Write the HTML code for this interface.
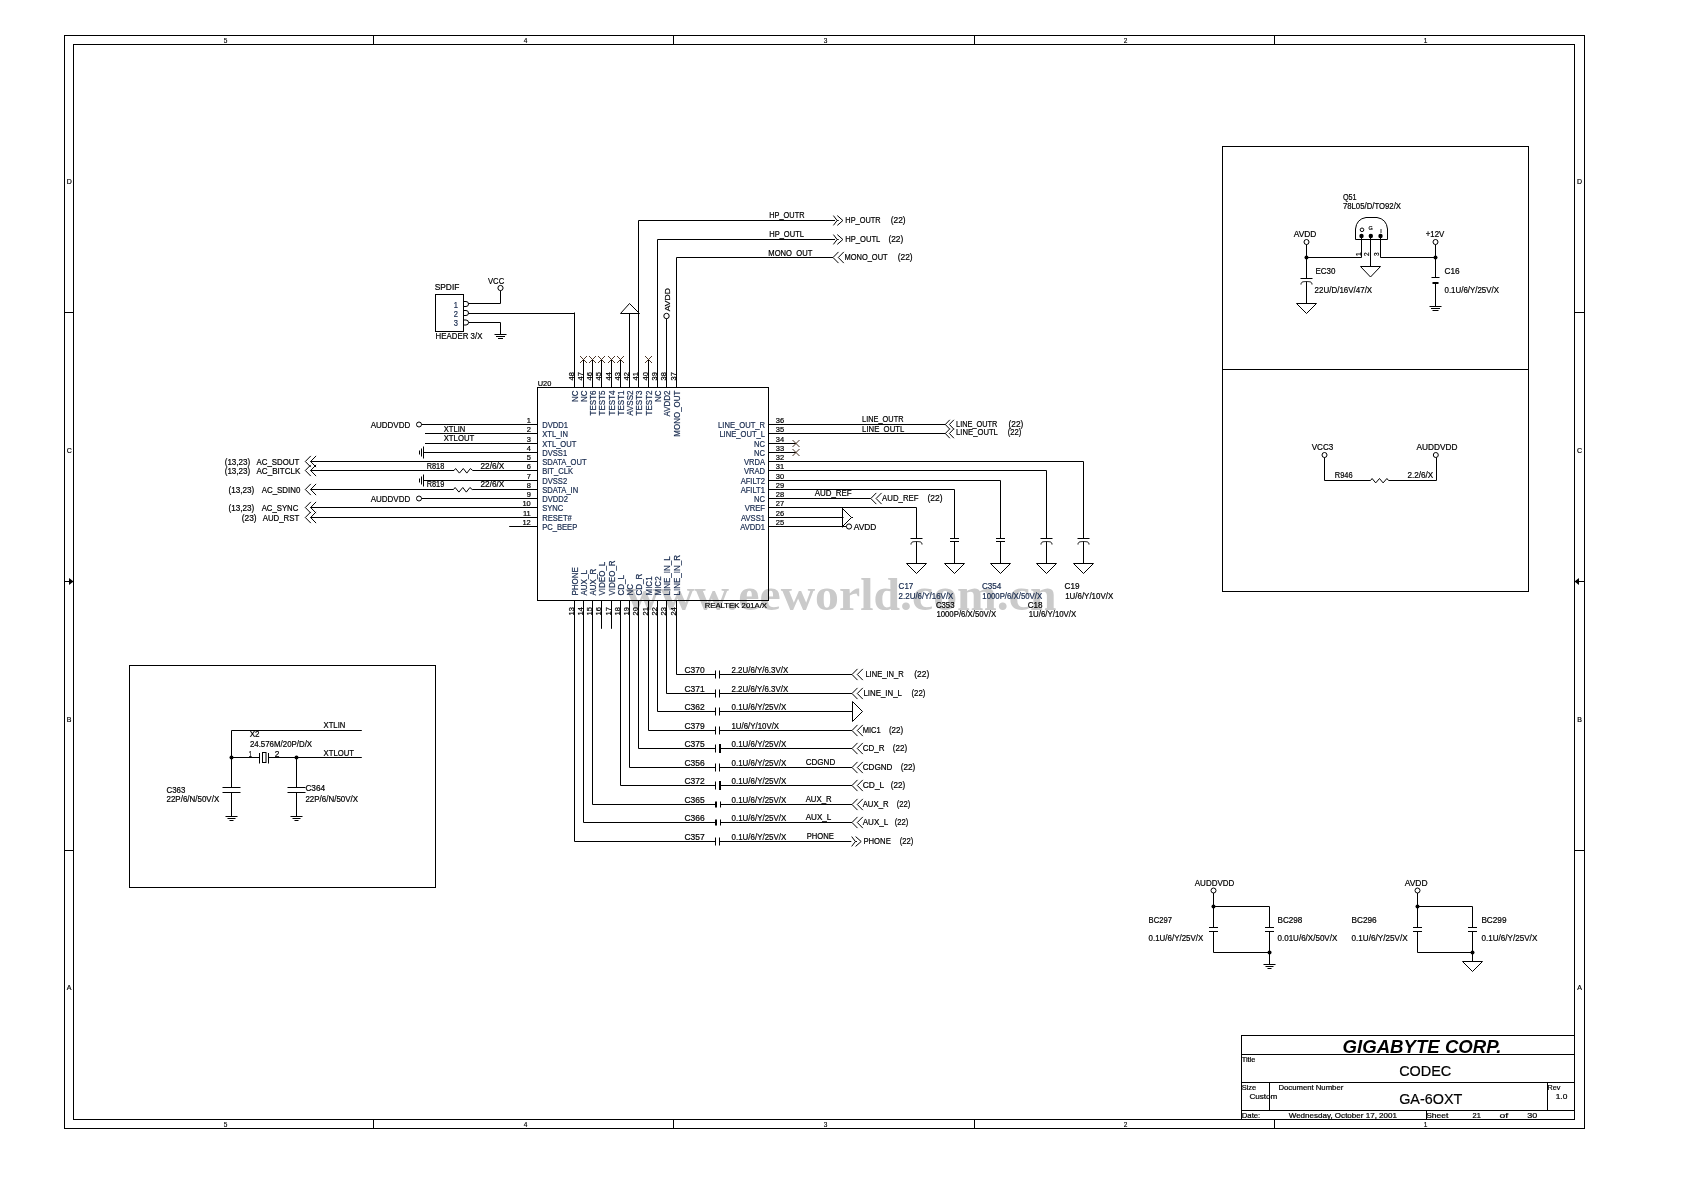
<!DOCTYPE html>
<html><head><meta charset="utf-8"><title>CODEC schematic</title>
<style>
html,body{margin:0;padding:0;background:#fff;}
svg{display:block;will-change:transform;}
svg{font-family:"Liberation Sans", sans-serif;}
</style></head>
<body>
<svg width="1684" height="1189" viewBox="0 0 1684 1189">
<rect x="0" y="0" width="1684" height="1189" fill="#fff"/>
<text x="625.5" y="610" font-family="Liberation Serif" font-weight="bold" font-size="46" fill="#cacaca" textLength="431" lengthAdjust="spacingAndGlyphs">www.eeworld.com.cn</text>
<rect x="64.5" y="35.5" width="1520" height="1093" fill="none" stroke="#000" stroke-width="1"/>
<rect x="73.5" y="44.5" width="1501" height="1075" fill="none" stroke="#000" stroke-width="1"/>
<line x1="373.5" y1="35.5" x2="373.5" y2="44.5" stroke="#000" stroke-width="1"/>
<line x1="373.5" y1="1119.5" x2="373.5" y2="1128.5" stroke="#000" stroke-width="1"/>
<line x1="673.5" y1="35.5" x2="673.5" y2="44.5" stroke="#000" stroke-width="1"/>
<line x1="673.5" y1="1119.5" x2="673.5" y2="1128.5" stroke="#000" stroke-width="1"/>
<line x1="974.5" y1="35.5" x2="974.5" y2="44.5" stroke="#000" stroke-width="1"/>
<line x1="974.5" y1="1119.5" x2="974.5" y2="1128.5" stroke="#000" stroke-width="1"/>
<line x1="1274.5" y1="35.5" x2="1274.5" y2="44.5" stroke="#000" stroke-width="1"/>
<line x1="1274.5" y1="1119.5" x2="1274.5" y2="1128.5" stroke="#000" stroke-width="1"/>
<line x1="64.5" y1="312.5" x2="73.5" y2="312.5" stroke="#000" stroke-width="1"/>
<line x1="1574.5" y1="312.5" x2="1584.5" y2="312.5" stroke="#000" stroke-width="1"/>
<line x1="64.5" y1="850.5" x2="73.5" y2="850.5" stroke="#000" stroke-width="1"/>
<line x1="1574.5" y1="850.5" x2="1584.5" y2="850.5" stroke="#000" stroke-width="1"/>
<line x1="64.5" y1="581.5" x2="73.5" y2="581.5" stroke="#000" stroke-width="1"/>
<polygon points="69,578 73.5,581.5 69,585" fill="#000"/>
<line x1="1574.5" y1="581.5" x2="1584.5" y2="581.5" stroke="#000" stroke-width="1"/>
<polygon points="1579,578 1574.5,581.5 1579,585" fill="#000"/>
<text x="225.5" y="42.8" font-size="6.5" stroke="#000" stroke-width="0.15" text-anchor="middle">5</text>
<text x="225.5" y="1126.8" font-size="6.5" stroke="#000" stroke-width="0.15" text-anchor="middle">5</text>
<text x="525.5" y="42.8" font-size="6.5" stroke="#000" stroke-width="0.15" text-anchor="middle">4</text>
<text x="525.5" y="1126.8" font-size="6.5" stroke="#000" stroke-width="0.15" text-anchor="middle">4</text>
<text x="825.5" y="42.8" font-size="6.5" stroke="#000" stroke-width="0.15" text-anchor="middle">3</text>
<text x="825.5" y="1126.8" font-size="6.5" stroke="#000" stroke-width="0.15" text-anchor="middle">3</text>
<text x="1125.5" y="42.8" font-size="6.5" stroke="#000" stroke-width="0.15" text-anchor="middle">2</text>
<text x="1125.5" y="1126.8" font-size="6.5" stroke="#000" stroke-width="0.15" text-anchor="middle">2</text>
<text x="1425.5" y="42.8" font-size="6.5" stroke="#000" stroke-width="0.15" text-anchor="middle">1</text>
<text x="1425.5" y="1126.8" font-size="6.5" stroke="#000" stroke-width="0.15" text-anchor="middle">1</text>
<text x="69.2" y="183.8" font-size="7" stroke="#000" stroke-width="0.2" text-anchor="middle">D</text>
<text x="1579.6" y="183.8" font-size="7" stroke="#000" stroke-width="0.2" text-anchor="middle">D</text>
<text x="69.2" y="452.8" font-size="7" stroke="#000" stroke-width="0.2" text-anchor="middle">C</text>
<text x="1579.6" y="452.8" font-size="7" stroke="#000" stroke-width="0.2" text-anchor="middle">C</text>
<text x="69.2" y="722" font-size="7" stroke="#000" stroke-width="0.2" text-anchor="middle">B</text>
<text x="1579.6" y="722" font-size="7" stroke="#000" stroke-width="0.2" text-anchor="middle">B</text>
<text x="69.2" y="990" font-size="7" stroke="#000" stroke-width="0.2" text-anchor="middle">A</text>
<text x="1579.6" y="990" font-size="7" stroke="#000" stroke-width="0.2" text-anchor="middle">A</text>
<rect x="1241.5" y="1035.5" width="333" height="84" fill="none" stroke="#000" stroke-width="1"/>
<line x1="1241.5" y1="1054.5" x2="1574.5" y2="1054.5" stroke="#000" stroke-width="1"/>
<line x1="1241.5" y1="1082.5" x2="1574.5" y2="1082.5" stroke="#000" stroke-width="1"/>
<line x1="1241.5" y1="1110.5" x2="1574.5" y2="1110.5" stroke="#000" stroke-width="1"/>
<line x1="1269.5" y1="1082.5" x2="1269.5" y2="1110.5" stroke="#000" stroke-width="1"/>
<line x1="1547.5" y1="1082.5" x2="1547.5" y2="1110.5" stroke="#000" stroke-width="1"/>
<line x1="1426.5" y1="1110.5" x2="1426.5" y2="1119.5" stroke="#000" stroke-width="1"/>
<text x="1342.5" y="1053" font-size="18.5" textLength="159" lengthAdjust="spacingAndGlyphs" font-weight="bold" font-style="italic">GIGABYTE CORP.</text>
<text x="1241.7" y="1062" font-size="7" stroke="#000" stroke-width="0.2" textLength="13.6" lengthAdjust="spacingAndGlyphs">Title</text>
<text x="1399.2" y="1076.4" font-size="14.5" stroke="#000" stroke-width="0.2" textLength="52.1" lengthAdjust="spacingAndGlyphs">CODEC</text>
<text x="1241.7" y="1090" font-size="7" stroke="#000" stroke-width="0.2" textLength="14.6" lengthAdjust="spacingAndGlyphs">Size</text>
<text x="1278.4" y="1090" font-size="7" stroke="#000" stroke-width="0.2" textLength="64.9" lengthAdjust="spacingAndGlyphs">Document Number</text>
<text x="1249.4" y="1098.5" font-size="7" stroke="#000" stroke-width="0.2" textLength="27.9" lengthAdjust="spacingAndGlyphs">Custom</text>
<text x="1399.2" y="1104.3" font-size="14.5" stroke="#000" stroke-width="0.2" textLength="63.1" lengthAdjust="spacingAndGlyphs">GA-6OXT</text>
<text x="1547.4" y="1090" font-size="7" stroke="#000" stroke-width="0.2" textLength="12.9" lengthAdjust="spacingAndGlyphs">Rev</text>
<text x="1555.7" y="1098.5" font-size="7" stroke="#000" stroke-width="0.2" textLength="11.6" lengthAdjust="spacingAndGlyphs">1.0</text>
<text x="1241.7" y="1117.5" font-size="7" stroke="#000" stroke-width="0.2" textLength="18.6" lengthAdjust="spacingAndGlyphs">Date:</text>
<text x="1288.7" y="1117.5" font-size="7" stroke="#000" stroke-width="0.2" textLength="108.3" lengthAdjust="spacingAndGlyphs">Wednesday, October 17, 2001</text>
<text x="1426.2" y="1117.5" font-size="7" stroke="#000" stroke-width="0.2" textLength="22.1" lengthAdjust="spacingAndGlyphs">Sheet</text>
<text x="1472.5" y="1117.5" font-size="7" stroke="#000" stroke-width="0.2" textLength="8.3" lengthAdjust="spacingAndGlyphs">21</text>
<text x="1499.5" y="1117.5" font-size="7" stroke="#000" stroke-width="0.2" textLength="8.8" lengthAdjust="spacingAndGlyphs">of</text>
<text x="1527.3" y="1117.5" font-size="7" stroke="#000" stroke-width="0.2" textLength="10.0" lengthAdjust="spacingAndGlyphs">30</text>
<rect x="537.5" y="387.5" width="231" height="213" fill="none" stroke="#000" stroke-width="1"/>
<text x="537.7" y="385.5" font-size="7.5" stroke="#000" stroke-width="0.2" textLength="13.6" lengthAdjust="spacingAndGlyphs">U20</text>
<text x="704.7" y="607.9" font-size="7.5" stroke="#000" stroke-width="0.2" textLength="62.3" lengthAdjust="spacingAndGlyphs">REALTEK 201A/X</text>
<line x1="574.5" y1="387.5" x2="574.5" y2="312.5" stroke="#000" stroke-width="1"/>
<text x="573.5" y="380.5" font-size="7.5" stroke="#000" stroke-width="0.2" transform="rotate(-90 573.5 380.5)">48</text>
<text x="578.1" y="390.5" font-size="8.6" fill="#172a4e" stroke="#172a4e" stroke-width="0.2" text-anchor="end" textLength="11.55" lengthAdjust="spacingAndGlyphs" transform="rotate(-90 578.1 390.5)">NC</text>
<line x1="583.5" y1="387.5" x2="583.5" y2="359.5" stroke="#000" stroke-width="1"/>
<text x="582.5" y="380.5" font-size="7.5" stroke="#000" stroke-width="0.2" transform="rotate(-90 582.5 380.5)">47</text>
<text x="587.1" y="390.5" font-size="8.6" fill="#172a4e" stroke="#172a4e" stroke-width="0.2" text-anchor="end" textLength="11.55" lengthAdjust="spacingAndGlyphs" transform="rotate(-90 587.1 390.5)">NC</text>
<line x1="580.0" y1="356.0" x2="587.0" y2="363.0" stroke="#4a3424" stroke-width="1"/>
<line x1="580.0" y1="363.0" x2="587.0" y2="356.0" stroke="#4a3424" stroke-width="1"/>
<line x1="592.5" y1="387.5" x2="592.5" y2="359.5" stroke="#000" stroke-width="1"/>
<text x="591.5" y="380.5" font-size="7.5" stroke="#000" stroke-width="0.2" transform="rotate(-90 591.5 380.5)">46</text>
<text x="596.1" y="390.5" font-size="8.6" fill="#172a4e" stroke="#172a4e" stroke-width="0.2" text-anchor="end" textLength="24.89" lengthAdjust="spacingAndGlyphs" transform="rotate(-90 596.1 390.5)">TEST6</text>
<line x1="589.0" y1="356.0" x2="596.0" y2="363.0" stroke="#4a3424" stroke-width="1"/>
<line x1="589.0" y1="363.0" x2="596.0" y2="356.0" stroke="#4a3424" stroke-width="1"/>
<line x1="601.5" y1="387.5" x2="601.5" y2="359.5" stroke="#000" stroke-width="1"/>
<text x="600.5" y="380.5" font-size="7.5" stroke="#000" stroke-width="0.2" transform="rotate(-90 600.5 380.5)">45</text>
<text x="605.1" y="390.5" font-size="8.6" fill="#172a4e" stroke="#172a4e" stroke-width="0.2" text-anchor="end" textLength="24.89" lengthAdjust="spacingAndGlyphs" transform="rotate(-90 605.1 390.5)">TEST5</text>
<line x1="598.0" y1="356.0" x2="605.0" y2="363.0" stroke="#4a3424" stroke-width="1"/>
<line x1="598.0" y1="363.0" x2="605.0" y2="356.0" stroke="#4a3424" stroke-width="1"/>
<line x1="611.5" y1="387.5" x2="611.5" y2="359.5" stroke="#000" stroke-width="1"/>
<text x="610.5" y="380.5" font-size="7.5" stroke="#000" stroke-width="0.2" transform="rotate(-90 610.5 380.5)">44</text>
<text x="615.1" y="390.5" font-size="8.6" fill="#172a4e" stroke="#172a4e" stroke-width="0.2" text-anchor="end" textLength="24.89" lengthAdjust="spacingAndGlyphs" transform="rotate(-90 615.1 390.5)">TEST4</text>
<line x1="608.0" y1="356.0" x2="615.0" y2="363.0" stroke="#4a3424" stroke-width="1"/>
<line x1="608.0" y1="363.0" x2="615.0" y2="356.0" stroke="#4a3424" stroke-width="1"/>
<line x1="620.5" y1="387.5" x2="620.5" y2="359.5" stroke="#000" stroke-width="1"/>
<text x="619.5" y="380.5" font-size="7.5" stroke="#000" stroke-width="0.2" transform="rotate(-90 619.5 380.5)">43</text>
<text x="624.1" y="390.5" font-size="8.6" fill="#172a4e" stroke="#172a4e" stroke-width="0.2" text-anchor="end" textLength="24.89" lengthAdjust="spacingAndGlyphs" transform="rotate(-90 624.1 390.5)">TEST1</text>
<line x1="617.0" y1="356.0" x2="624.0" y2="363.0" stroke="#4a3424" stroke-width="1"/>
<line x1="617.0" y1="363.0" x2="624.0" y2="356.0" stroke="#4a3424" stroke-width="1"/>
<line x1="629.5" y1="387.5" x2="629.5" y2="313.5" stroke="#000" stroke-width="1"/>
<text x="628.5" y="380.5" font-size="7.5" stroke="#000" stroke-width="0.2" transform="rotate(-90 628.5 380.5)">42</text>
<text x="633.1" y="390.5" font-size="8.6" fill="#172a4e" stroke="#172a4e" stroke-width="0.2" text-anchor="end" textLength="25.2" lengthAdjust="spacingAndGlyphs" transform="rotate(-90 633.1 390.5)">AVSS2</text>
<line x1="638.5" y1="387.5" x2="638.5" y2="220.5" stroke="#000" stroke-width="1"/>
<text x="637.5" y="380.5" font-size="7.5" stroke="#000" stroke-width="0.2" transform="rotate(-90 637.5 380.5)">41</text>
<text x="642.1" y="390.5" font-size="8.6" fill="#172a4e" stroke="#172a4e" stroke-width="0.2" text-anchor="end" textLength="24.89" lengthAdjust="spacingAndGlyphs" transform="rotate(-90 642.1 390.5)">TEST3</text>
<line x1="648.5" y1="387.5" x2="648.5" y2="359.5" stroke="#000" stroke-width="1"/>
<text x="647.5" y="380.5" font-size="7.5" stroke="#000" stroke-width="0.2" transform="rotate(-90 647.5 380.5)">40</text>
<text x="652.1" y="390.5" font-size="8.6" fill="#172a4e" stroke="#172a4e" stroke-width="0.2" text-anchor="end" textLength="24.89" lengthAdjust="spacingAndGlyphs" transform="rotate(-90 652.1 390.5)">TEST2</text>
<line x1="645.0" y1="356.0" x2="652.0" y2="363.0" stroke="#4a3424" stroke-width="1"/>
<line x1="645.0" y1="363.0" x2="652.0" y2="356.0" stroke="#4a3424" stroke-width="1"/>
<line x1="657.5" y1="387.5" x2="657.5" y2="239.5" stroke="#000" stroke-width="1"/>
<text x="656.5" y="380.5" font-size="7.5" stroke="#000" stroke-width="0.2" transform="rotate(-90 656.5 380.5)">39</text>
<text x="661.1" y="390.5" font-size="8.6" fill="#172a4e" stroke="#172a4e" stroke-width="0.2" text-anchor="end" textLength="11.55" lengthAdjust="spacingAndGlyphs" transform="rotate(-90 661.1 390.5)">NC</text>
<line x1="666.5" y1="387.5" x2="666.5" y2="318.5" stroke="#000" stroke-width="1"/>
<text x="665.5" y="380.5" font-size="7.5" stroke="#000" stroke-width="0.2" transform="rotate(-90 665.5 380.5)">38</text>
<text x="670.1" y="390.5" font-size="8.6" fill="#172a4e" stroke="#172a4e" stroke-width="0.2" text-anchor="end" textLength="26.08" lengthAdjust="spacingAndGlyphs" transform="rotate(-90 670.1 390.5)">AVDD2</text>
<line x1="676.5" y1="387.5" x2="676.5" y2="257.5" stroke="#000" stroke-width="1"/>
<text x="675.5" y="380.5" font-size="7.5" stroke="#000" stroke-width="0.2" transform="rotate(-90 675.5 380.5)">37</text>
<text x="680.1" y="390.5" font-size="8.6" fill="#172a4e" stroke="#172a4e" stroke-width="0.2" text-anchor="end" textLength="46.22" lengthAdjust="spacingAndGlyphs" transform="rotate(-90 680.1 390.5)">MONO_OUT</text>
<text x="573.5" y="615.5" font-size="7.5" stroke="#000" stroke-width="0.2" transform="rotate(-90 573.5 615.5)">13</text>
<text x="578.1" y="595.5" font-size="8.6" fill="#172a4e" stroke="#172a4e" stroke-width="0.2" textLength="28.45" lengthAdjust="spacingAndGlyphs" transform="rotate(-90 578.1 595.5)">PHONE</text>
<text x="582.5" y="615.5" font-size="7.5" stroke="#000" stroke-width="0.2" transform="rotate(-90 582.5 615.5)">14</text>
<text x="587.1" y="595.5" font-size="8.6" fill="#172a4e" stroke="#172a4e" stroke-width="0.2" textLength="25.35" lengthAdjust="spacingAndGlyphs" transform="rotate(-90 587.1 595.5)">AUX_L</text>
<text x="591.5" y="615.5" font-size="7.5" stroke="#000" stroke-width="0.2" transform="rotate(-90 591.5 615.5)">15</text>
<text x="596.1" y="595.5" font-size="8.6" fill="#172a4e" stroke="#172a4e" stroke-width="0.2" textLength="26.68" lengthAdjust="spacingAndGlyphs" transform="rotate(-90 596.1 595.5)">AUX_R</text>
<text x="600.5" y="615.5" font-size="7.5" stroke="#000" stroke-width="0.2" transform="rotate(-90 600.5 615.5)">16</text>
<text x="605.1" y="595.5" font-size="8.6" fill="#172a4e" stroke="#172a4e" stroke-width="0.2" textLength="33.79" lengthAdjust="spacingAndGlyphs" transform="rotate(-90 605.1 595.5)">VIDEO_L</text>
<text x="610.5" y="615.5" font-size="7.5" stroke="#000" stroke-width="0.2" transform="rotate(-90 610.5 615.5)">17</text>
<text x="615.1" y="595.5" font-size="8.6" fill="#172a4e" stroke="#172a4e" stroke-width="0.2" textLength="35.12" lengthAdjust="spacingAndGlyphs" transform="rotate(-90 615.1 595.5)">VIDEO_R</text>
<text x="619.5" y="615.5" font-size="7.5" stroke="#000" stroke-width="0.2" transform="rotate(-90 619.5 615.5)">18</text>
<text x="624.1" y="595.5" font-size="8.6" fill="#172a4e" stroke="#172a4e" stroke-width="0.2" textLength="20.45" lengthAdjust="spacingAndGlyphs" transform="rotate(-90 624.1 595.5)">CD_L</text>
<text x="628.5" y="615.5" font-size="7.5" stroke="#000" stroke-width="0.2" transform="rotate(-90 628.5 615.5)">19</text>
<text x="633.1" y="595.5" font-size="8.6" fill="#172a4e" stroke="#172a4e" stroke-width="0.2" textLength="11.55" lengthAdjust="spacingAndGlyphs" transform="rotate(-90 633.1 595.5)">NC</text>
<text x="637.5" y="615.5" font-size="7.5" stroke="#000" stroke-width="0.2" transform="rotate(-90 637.5 615.5)">20</text>
<text x="642.1" y="595.5" font-size="8.6" fill="#172a4e" stroke="#172a4e" stroke-width="0.2" textLength="21.78" lengthAdjust="spacingAndGlyphs" transform="rotate(-90 642.1 595.5)">CD_R</text>
<text x="647.5" y="615.5" font-size="7.5" stroke="#000" stroke-width="0.2" transform="rotate(-90 647.5 615.5)">21</text>
<text x="652.1" y="595.5" font-size="8.6" fill="#172a4e" stroke="#172a4e" stroke-width="0.2" textLength="19.11" lengthAdjust="spacingAndGlyphs" transform="rotate(-90 652.1 595.5)">MIC1</text>
<text x="656.5" y="615.5" font-size="7.5" stroke="#000" stroke-width="0.2" transform="rotate(-90 656.5 615.5)">22</text>
<text x="661.1" y="595.5" font-size="8.6" fill="#172a4e" stroke="#172a4e" stroke-width="0.2" textLength="19.11" lengthAdjust="spacingAndGlyphs" transform="rotate(-90 661.1 595.5)">MIC2</text>
<text x="665.5" y="615.5" font-size="7.5" stroke="#000" stroke-width="0.2" transform="rotate(-90 665.5 615.5)">23</text>
<text x="670.1" y="595.5" font-size="8.6" fill="#172a4e" stroke="#172a4e" stroke-width="0.2" textLength="39.13" lengthAdjust="spacingAndGlyphs" transform="rotate(-90 670.1 595.5)">LINE_IN_L</text>
<text x="675.5" y="615.5" font-size="7.5" stroke="#000" stroke-width="0.2" transform="rotate(-90 675.5 615.5)">24</text>
<text x="680.1" y="595.5" font-size="8.6" fill="#172a4e" stroke="#172a4e" stroke-width="0.2" textLength="40.46" lengthAdjust="spacingAndGlyphs" transform="rotate(-90 680.1 595.5)">LINE_IN_R</text>
<text x="530.8" y="423.3" font-size="7.5" stroke="#000" stroke-width="0.2" text-anchor="end">1</text>
<text x="542.2" y="427.8" font-size="8.4" fill="#172a4e" stroke="#172a4e" stroke-width="0.2" textLength="25.76" lengthAdjust="spacingAndGlyphs">DVDD1</text>
<text x="530.8" y="432.3" font-size="7.5" stroke="#000" stroke-width="0.2" text-anchor="end">2</text>
<text x="542.2" y="436.8" font-size="8.4" fill="#172a4e" stroke="#172a4e" stroke-width="0.2" textLength="25.77" lengthAdjust="spacingAndGlyphs">XTL_IN</text>
<text x="530.8" y="442.3" font-size="7.5" stroke="#000" stroke-width="0.2" text-anchor="end">3</text>
<text x="542.2" y="446.8" font-size="8.4" fill="#172a4e" stroke="#172a4e" stroke-width="0.2" textLength="34.21" lengthAdjust="spacingAndGlyphs">XTL_OUT</text>
<text x="530.8" y="451.3" font-size="7.5" stroke="#000" stroke-width="0.2" text-anchor="end">4</text>
<text x="542.2" y="455.8" font-size="8.4" fill="#172a4e" stroke="#172a4e" stroke-width="0.2" textLength="24.92" lengthAdjust="spacingAndGlyphs">DVSS1</text>
<text x="530.8" y="460.3" font-size="7.5" stroke="#000" stroke-width="0.2" text-anchor="end">5</text>
<text x="542.2" y="464.8" font-size="8.4" fill="#172a4e" stroke="#172a4e" stroke-width="0.2" textLength="44.48" lengthAdjust="spacingAndGlyphs">SDATA_OUT</text>
<text x="530.8" y="469.3" font-size="7.5" stroke="#000" stroke-width="0.2" text-anchor="end">6</text>
<text x="542.2" y="473.8" font-size="8.4" fill="#172a4e" stroke="#172a4e" stroke-width="0.2" textLength="30.83" lengthAdjust="spacingAndGlyphs">BIT_CLK</text>
<text x="530.8" y="479.3" font-size="7.5" stroke="#000" stroke-width="0.2" text-anchor="end">7</text>
<text x="542.2" y="483.8" font-size="8.4" fill="#172a4e" stroke="#172a4e" stroke-width="0.2" textLength="24.92" lengthAdjust="spacingAndGlyphs">DVSS2</text>
<text x="530.8" y="488.3" font-size="7.5" stroke="#000" stroke-width="0.2" text-anchor="end">8</text>
<text x="542.2" y="492.8" font-size="8.4" fill="#172a4e" stroke="#172a4e" stroke-width="0.2" textLength="36.04" lengthAdjust="spacingAndGlyphs">SDATA_IN</text>
<text x="530.8" y="497.3" font-size="7.5" stroke="#000" stroke-width="0.2" text-anchor="end">9</text>
<text x="542.2" y="501.8" font-size="8.4" fill="#172a4e" stroke="#172a4e" stroke-width="0.2" textLength="25.76" lengthAdjust="spacingAndGlyphs">DVDD2</text>
<text x="530.8" y="506.3" font-size="7.5" stroke="#000" stroke-width="0.2" text-anchor="end">10</text>
<text x="542.2" y="510.8" font-size="8.4" fill="#172a4e" stroke="#172a4e" stroke-width="0.2" textLength="21.12" lengthAdjust="spacingAndGlyphs">SYNC</text>
<text x="530.8" y="516.3" font-size="7.5" stroke="#000" stroke-width="0.2" text-anchor="end">11</text>
<text x="542.2" y="520.8" font-size="8.4" fill="#172a4e" stroke="#172a4e" stroke-width="0.2" textLength="29.57" lengthAdjust="spacingAndGlyphs">RESET#</text>
<text x="530.8" y="525.3" font-size="7.5" stroke="#000" stroke-width="0.2" text-anchor="end">12</text>
<text x="542.2" y="529.8" font-size="8.4" fill="#172a4e" stroke="#172a4e" stroke-width="0.2" textLength="35.06" lengthAdjust="spacingAndGlyphs">PC_BEEP</text>
<text x="775.8" y="423.3" font-size="7.5" stroke="#000" stroke-width="0.2">36</text>
<text x="765" y="427.8" font-size="8.4" fill="#172a4e" stroke="#172a4e" stroke-width="0.2" text-anchor="end" textLength="46.88" lengthAdjust="spacingAndGlyphs">LINE_OUT_R</text>
<text x="775.8" y="432.3" font-size="7.5" stroke="#000" stroke-width="0.2">35</text>
<text x="765" y="436.8" font-size="8.4" fill="#172a4e" stroke="#172a4e" stroke-width="0.2" text-anchor="end" textLength="45.62" lengthAdjust="spacingAndGlyphs">LINE_OUT_L</text>
<text x="775.8" y="442.3" font-size="7.5" stroke="#000" stroke-width="0.2">34</text>
<text x="765" y="446.8" font-size="8.4" fill="#172a4e" stroke="#172a4e" stroke-width="0.2" text-anchor="end" textLength="10.98" lengthAdjust="spacingAndGlyphs">NC</text>
<text x="775.8" y="451.3" font-size="7.5" stroke="#000" stroke-width="0.2">33</text>
<text x="765" y="455.8" font-size="8.4" fill="#172a4e" stroke="#172a4e" stroke-width="0.2" text-anchor="end" textLength="10.98" lengthAdjust="spacingAndGlyphs">NC</text>
<text x="775.8" y="460.3" font-size="7.5" stroke="#000" stroke-width="0.2">32</text>
<text x="765" y="464.8" font-size="8.4" fill="#172a4e" stroke="#172a4e" stroke-width="0.2" text-anchor="end" textLength="21.12" lengthAdjust="spacingAndGlyphs">VRDA</text>
<text x="775.8" y="469.3" font-size="7.5" stroke="#000" stroke-width="0.2">31</text>
<text x="765" y="473.8" font-size="8.4" fill="#172a4e" stroke="#172a4e" stroke-width="0.2" text-anchor="end" textLength="21.12" lengthAdjust="spacingAndGlyphs">VRAD</text>
<text x="775.8" y="479.3" font-size="7.5" stroke="#000" stroke-width="0.2">30</text>
<text x="765" y="483.8" font-size="8.4" fill="#172a4e" stroke="#172a4e" stroke-width="0.2" text-anchor="end" textLength="24.36" lengthAdjust="spacingAndGlyphs">AFILT2</text>
<text x="775.8" y="488.3" font-size="7.5" stroke="#000" stroke-width="0.2">29</text>
<text x="765" y="492.8" font-size="8.4" fill="#172a4e" stroke="#172a4e" stroke-width="0.2" text-anchor="end" textLength="24.36" lengthAdjust="spacingAndGlyphs">AFILT1</text>
<text x="775.8" y="497.3" font-size="7.5" stroke="#000" stroke-width="0.2">28</text>
<text x="765" y="501.8" font-size="8.4" fill="#172a4e" stroke="#172a4e" stroke-width="0.2" text-anchor="end" textLength="10.98" lengthAdjust="spacingAndGlyphs">NC</text>
<text x="775.8" y="506.3" font-size="7.5" stroke="#000" stroke-width="0.2">27</text>
<text x="765" y="510.8" font-size="8.4" fill="#172a4e" stroke="#172a4e" stroke-width="0.2" text-anchor="end" textLength="20.27" lengthAdjust="spacingAndGlyphs">VREF</text>
<text x="775.8" y="516.3" font-size="7.5" stroke="#000" stroke-width="0.2">26</text>
<text x="765" y="520.8" font-size="8.4" fill="#172a4e" stroke="#172a4e" stroke-width="0.2" text-anchor="end" textLength="23.94" lengthAdjust="spacingAndGlyphs">AVSS1</text>
<text x="775.8" y="525.3" font-size="7.5" stroke="#000" stroke-width="0.2">25</text>
<text x="765" y="529.8" font-size="8.4" fill="#172a4e" stroke="#172a4e" stroke-width="0.2" text-anchor="end" textLength="24.78" lengthAdjust="spacingAndGlyphs">AVDD1</text>
<line x1="638.5" y1="220.5" x2="835" y2="220.5" stroke="#000" stroke-width="1"/>
<polyline points="833.4,215.6 837.1,220.5 833.4,225.4" fill="none" stroke="#000" stroke-width="1"/>
<line x1="837.1" y1="220.5" x2="838.7" y2="220.5" stroke="#000" stroke-width="1"/>
<polyline points="837.3,215.6 842.9,220.5 837.3,225.4" fill="none" stroke="#000" stroke-width="1"/>
<text x="769.2" y="218" font-size="8.4" stroke="#000" stroke-width="0.2" textLength="35.3" lengthAdjust="spacingAndGlyphs">HP_OUTR</text>
<text x="845.3000000000001" y="222.6" font-size="8.4" stroke="#000" stroke-width="0.2" textLength="35.3" lengthAdjust="spacingAndGlyphs">HP_OUTR</text>
<text x="890.7" y="222.6" font-size="8.4" stroke="#000" stroke-width="0.2" textLength="14.9" lengthAdjust="spacingAndGlyphs">(22)</text>
<line x1="657.5" y1="239.5" x2="835" y2="239.5" stroke="#000" stroke-width="1"/>
<polyline points="833.4,234.6 837.1,239.5 833.4,244.4" fill="none" stroke="#000" stroke-width="1"/>
<line x1="837.1" y1="239.5" x2="838.7" y2="239.5" stroke="#000" stroke-width="1"/>
<polyline points="837.3,234.6 842.9,239.5 837.3,244.4" fill="none" stroke="#000" stroke-width="1"/>
<text x="769.2" y="237" font-size="8.4" stroke="#000" stroke-width="0.2" textLength="34.8" lengthAdjust="spacingAndGlyphs">HP_OUTL</text>
<text x="845.3000000000001" y="241.6" font-size="8.4" stroke="#000" stroke-width="0.2" textLength="35.0" lengthAdjust="spacingAndGlyphs">HP_OUTL</text>
<text x="888.4000000000001" y="241.6" font-size="8.4" stroke="#000" stroke-width="0.2" textLength="14.9" lengthAdjust="spacingAndGlyphs">(22)</text>
<line x1="676.5" y1="257.5" x2="833" y2="257.5" stroke="#000" stroke-width="1"/>
<polyline points="838.5,251.9 833,257.5 838.5,263.1" fill="none" stroke="#000" stroke-width="1"/>
<polyline points="843.8,251.9 838.3,257.5 843.8,263.1" fill="none" stroke="#000" stroke-width="1"/>
<text x="768.3000000000001" y="256" font-size="8.4" stroke="#000" stroke-width="0.2" textLength="44.0" lengthAdjust="spacingAndGlyphs">MONO_OUT</text>
<text x="844.4000000000001" y="259.6" font-size="8.4" stroke="#000" stroke-width="0.2" textLength="43.3" lengthAdjust="spacingAndGlyphs">MONO_OUT</text>
<text x="897.7" y="259.6" font-size="8.4" stroke="#000" stroke-width="0.2" textLength="15.0" lengthAdjust="spacingAndGlyphs">(22)</text>
<rect x="435.5" y="294.5" width="28" height="37" fill="none" stroke="#000" stroke-width="1"/>
<path d="M463.5,301.5 H466 A2.5,2.5 0 0 1 466,306.5 H463.5" fill="none" stroke="#000" stroke-width="1"/>
<path d="M463.5,310.5 H466 A2.5,2.5 0 0 1 466,315.5 H463.5" fill="none" stroke="#000" stroke-width="1"/>
<path d="M463.5,320.0 H466 A2.5,2.5 0 0 1 466,325.0 H463.5" fill="none" stroke="#000" stroke-width="1"/>
<line x1="468.5" y1="303.5" x2="500.5" y2="303.5" stroke="#000" stroke-width="1"/>
<line x1="500.5" y1="303.5" x2="500.5" y2="290.6" stroke="#000" stroke-width="1"/>
<circle cx="500.5" cy="288" r="2.6" fill="none" stroke="#000" stroke-width="1"/>
<line x1="468.5" y1="313.5" x2="574.5" y2="313.5" stroke="#000" stroke-width="1"/>
<line x1="468.5" y1="322.5" x2="500.5" y2="322.5" stroke="#000" stroke-width="1"/>
<line x1="500.5" y1="322.5" x2="500.5" y2="334.5" stroke="#000" stroke-width="1"/>
<line x1="494.5" y1="334.5" x2="506.5" y2="334.5" stroke="#000" stroke-width="1"/>
<line x1="496.0" y1="336.5" x2="505.0" y2="336.5" stroke="#000" stroke-width="1"/>
<line x1="498.0" y1="338.5" x2="503.0" y2="338.5" stroke="#000" stroke-width="1"/>
<text x="434.7" y="289.7" font-size="8.4" stroke="#000" stroke-width="0.2" textLength="24.7" lengthAdjust="spacingAndGlyphs">SPDIF</text>
<text x="488.0" y="283.8" font-size="8.4" stroke="#000" stroke-width="0.2" textLength="16.2" lengthAdjust="spacingAndGlyphs">VCC</text>
<text x="453.8" y="307.7" font-size="8.4" fill="#172a4e" stroke="#172a4e" stroke-width="0.2" textLength="4.2" lengthAdjust="spacingAndGlyphs">1</text>
<text x="453.8" y="316.8" font-size="8.4" fill="#172a4e" stroke="#172a4e" stroke-width="0.2" textLength="4.2" lengthAdjust="spacingAndGlyphs">2</text>
<text x="453.8" y="325.9" font-size="8.4" fill="#172a4e" stroke="#172a4e" stroke-width="0.2" textLength="4.2" lengthAdjust="spacingAndGlyphs">3</text>
<text x="435.59999999999997" y="338.9" font-size="8.4" stroke="#000" stroke-width="0.2" textLength="46.8" lengthAdjust="spacingAndGlyphs">HEADER 3/X</text>
<polygon points="620.5,313.5 629.5,303.5 639.5,313.5" fill="none" stroke="#000" stroke-width="1"/>
<circle cx="666.5" cy="316" r="2.7" fill="none" stroke="#000" stroke-width="1"/>
<text x="670" y="311.2" font-size="8" stroke="#000" stroke-width="0.2" textLength="23" lengthAdjust="spacingAndGlyphs" transform="rotate(-90 670 311.2)">AVDD</text>
<circle cx="419" cy="424.5" r="2.5" fill="none" stroke="#000" stroke-width="1"/>
<line x1="421.5" y1="424.5" x2="537.5" y2="424.5" stroke="#000" stroke-width="1"/>
<text x="370.7" y="427.8" font-size="8.4" stroke="#000" stroke-width="0.2" textLength="39.6" lengthAdjust="spacingAndGlyphs">AUDDVDD</text>
<line x1="425" y1="433.5" x2="537.5" y2="433.5" stroke="#000" stroke-width="1"/>
<text x="443.7" y="431.7" font-size="8.4" stroke="#000" stroke-width="0.2" textLength="21.6" lengthAdjust="spacingAndGlyphs">XTLIN</text>
<line x1="425" y1="443.5" x2="537.5" y2="443.5" stroke="#000" stroke-width="1"/>
<text x="443.7" y="440.6" font-size="8.4" stroke="#000" stroke-width="0.2" textLength="30.6" lengthAdjust="spacingAndGlyphs">XTLOUT</text>
<line x1="423.5" y1="446.5" x2="423.5" y2="458.5" stroke="#000" stroke-width="1"/>
<line x1="421.5" y1="448.5" x2="421.5" y2="456.5" stroke="#000" stroke-width="1"/>
<line x1="419.5" y1="450.5" x2="419.5" y2="454.5" stroke="#000" stroke-width="1"/>
<line x1="423.5" y1="452.5" x2="537.5" y2="452.5" stroke="#000" stroke-width="1"/>
<line x1="310.5" y1="461.5" x2="537.5" y2="461.5" stroke="#000" stroke-width="1"/>
<polyline points="310.8,455.9 305.3,461.5 310.8,467.1" fill="none" stroke="#000" stroke-width="1"/>
<polyline points="316.1,455.9 310.6,461.5 316.1,467.1" fill="none" stroke="#000" stroke-width="1"/>
<line x1="310.5" y1="470.5" x2="454" y2="470.5" stroke="#000" stroke-width="1"/>
<polyline points="454,470.5 455.6,468.5 459.4,473.1 463.3,468.5 466.8,473.1 470.4,468.5 472.7,470.5" fill="none" stroke="#000" stroke-width="1"/>
<line x1="472.7" y1="470.5" x2="537.5" y2="470.5" stroke="#000" stroke-width="1"/>
<polyline points="310.8,464.9 305.3,470.5 310.8,476.1" fill="none" stroke="#000" stroke-width="1"/>
<polyline points="316.1,464.9 310.6,470.5 316.1,476.1" fill="none" stroke="#000" stroke-width="1"/>
<text x="426.7" y="468.7" font-size="8.4" stroke="#000" stroke-width="0.2" textLength="17.6" lengthAdjust="spacingAndGlyphs">R818</text>
<text x="480.5" y="468.7" font-size="8.4" stroke="#000" stroke-width="0.2" textLength="23.8" lengthAdjust="spacingAndGlyphs">22/6/X</text>
<line x1="423.5" y1="474.5" x2="423.5" y2="486.5" stroke="#000" stroke-width="1"/>
<line x1="421.5" y1="476.5" x2="421.5" y2="484.5" stroke="#000" stroke-width="1"/>
<line x1="419.5" y1="478.5" x2="419.5" y2="482.5" stroke="#000" stroke-width="1"/>
<line x1="423.5" y1="480.5" x2="537.5" y2="480.5" stroke="#000" stroke-width="1"/>
<line x1="310.5" y1="489.5" x2="453.5" y2="489.5" stroke="#000" stroke-width="1"/>
<polyline points="453.5,489.5 455.1,487.5 458.9,492.1 462.8,487.5 466.3,492.1 469.9,487.5 472.2,489.5" fill="none" stroke="#000" stroke-width="1"/>
<line x1="472.2" y1="489.5" x2="537.5" y2="489.5" stroke="#000" stroke-width="1"/>
<polyline points="310.8,483.9 305.3,489.5 310.8,495.1" fill="none" stroke="#000" stroke-width="1"/>
<polyline points="316.1,483.9 310.6,489.5 316.1,495.1" fill="none" stroke="#000" stroke-width="1"/>
<text x="426.7" y="487" font-size="8.4" stroke="#000" stroke-width="0.2" textLength="17.6" lengthAdjust="spacingAndGlyphs">R819</text>
<text x="480.5" y="487" font-size="8.4" stroke="#000" stroke-width="0.2" textLength="23.8" lengthAdjust="spacingAndGlyphs">22/6/X</text>
<circle cx="419" cy="498.5" r="2.5" fill="none" stroke="#000" stroke-width="1"/>
<line x1="421.5" y1="498.5" x2="537.5" y2="498.5" stroke="#000" stroke-width="1"/>
<text x="370.7" y="501.8" font-size="8.4" stroke="#000" stroke-width="0.2" textLength="39.6" lengthAdjust="spacingAndGlyphs">AUDDVDD</text>
<line x1="310.5" y1="507.5" x2="537.5" y2="507.5" stroke="#000" stroke-width="1"/>
<polyline points="310.8,501.9 305.3,507.5 310.8,513.1" fill="none" stroke="#000" stroke-width="1"/>
<polyline points="316.1,501.9 310.6,507.5 316.1,513.1" fill="none" stroke="#000" stroke-width="1"/>
<line x1="310.5" y1="517.5" x2="537.5" y2="517.5" stroke="#000" stroke-width="1"/>
<polyline points="310.8,511.9 305.3,517.5 310.8,523.1" fill="none" stroke="#000" stroke-width="1"/>
<polyline points="316.1,511.9 310.6,517.5 316.1,523.1" fill="none" stroke="#000" stroke-width="1"/>
<line x1="509.2" y1="526.5" x2="537.5" y2="526.5" stroke="#000" stroke-width="1"/>
<text x="224.7" y="465" font-size="8.4" stroke="#000" stroke-width="0.2" textLength="25.6" lengthAdjust="spacingAndGlyphs">(13,23)</text>
<text x="256.5" y="465" font-size="8.4" stroke="#000" stroke-width="0.2" textLength="42.8" lengthAdjust="spacingAndGlyphs">AC_SDOUT</text>
<text x="224.7" y="474" font-size="8.4" stroke="#000" stroke-width="0.2" textLength="25.6" lengthAdjust="spacingAndGlyphs">(13,23)</text>
<text x="256.5" y="474" font-size="8.4" stroke="#000" stroke-width="0.2" textLength="43.8" lengthAdjust="spacingAndGlyphs">AC_BITCLK</text>
<text x="228.5" y="493" font-size="8.4" stroke="#000" stroke-width="0.2" textLength="25.8" lengthAdjust="spacingAndGlyphs">(13,23)</text>
<text x="261.7" y="493" font-size="8.4" stroke="#000" stroke-width="0.2" textLength="38.6" lengthAdjust="spacingAndGlyphs">AC_SDIN0</text>
<text x="228.5" y="511" font-size="8.4" stroke="#000" stroke-width="0.2" textLength="25.8" lengthAdjust="spacingAndGlyphs">(13,23)</text>
<text x="261.7" y="511" font-size="8.4" stroke="#000" stroke-width="0.2" textLength="36.6" lengthAdjust="spacingAndGlyphs">AC_SYNC</text>
<text x="241.7" y="521" font-size="8.4" stroke="#000" stroke-width="0.2" textLength="14.9" lengthAdjust="spacingAndGlyphs">(23)</text>
<text x="262.7" y="521" font-size="8.4" stroke="#000" stroke-width="0.2" textLength="36.6" lengthAdjust="spacingAndGlyphs">AUD_RST</text>
<line x1="768.5" y1="424.5" x2="945.6" y2="424.5" stroke="#000" stroke-width="1"/>
<polyline points="949.8,419.8 945.3,424.5 949.8,429.2" fill="none" stroke="#000" stroke-width="1"/>
<polyline points="953.9,419.8 949.4,424.5 953.9,429.2" fill="none" stroke="#000" stroke-width="1"/>
<text x="862.1" y="422.1" font-size="8.4" stroke="#000" stroke-width="0.2" textLength="41.4" lengthAdjust="spacingAndGlyphs">LINE_OUTR</text>
<text x="956.1" y="427.4" font-size="8.4" stroke="#000" stroke-width="0.2" textLength="41.3" lengthAdjust="spacingAndGlyphs">LINE_OUTR</text>
<text x="1008.5" y="427.4" font-size="8.4" stroke="#000" stroke-width="0.2" textLength="14.8" lengthAdjust="spacingAndGlyphs">(22)</text>
<line x1="768.5" y1="433.5" x2="945.6" y2="433.5" stroke="#000" stroke-width="1"/>
<polyline points="949.8,428.8 945.3,433.5 949.8,438.2" fill="none" stroke="#000" stroke-width="1"/>
<polyline points="953.9,428.8 949.4,433.5 953.9,438.2" fill="none" stroke="#000" stroke-width="1"/>
<text x="862.1" y="432.4" font-size="8.4" stroke="#000" stroke-width="0.2" textLength="42.2" lengthAdjust="spacingAndGlyphs">LINE_OUTL</text>
<text x="956.1" y="435.4" font-size="8.4" stroke="#000" stroke-width="0.2" textLength="41.8" lengthAdjust="spacingAndGlyphs">LINE_OUTL</text>
<text x="1007.7" y="435.4" font-size="8.4" stroke="#000" stroke-width="0.2" textLength="13.6" lengthAdjust="spacingAndGlyphs">(22)</text>
<line x1="768.5" y1="443.5" x2="796" y2="443.5" stroke="#000" stroke-width="1"/>
<line x1="792.5" y1="440.0" x2="799.5" y2="447.0" stroke="#4a3424" stroke-width="1"/>
<line x1="792.5" y1="447.0" x2="799.5" y2="440.0" stroke="#4a3424" stroke-width="1"/>
<line x1="768.5" y1="452.5" x2="796" y2="452.5" stroke="#000" stroke-width="1"/>
<line x1="792.5" y1="449.0" x2="799.5" y2="456.0" stroke="#4a3424" stroke-width="1"/>
<line x1="792.5" y1="456.0" x2="799.5" y2="449.0" stroke="#4a3424" stroke-width="1"/>
<line x1="768.5" y1="461.5" x2="1083.5" y2="461.5" stroke="#000" stroke-width="1"/>
<line x1="1083.5" y1="461.5" x2="1083.5" y2="538.5" stroke="#000" stroke-width="1"/>
<line x1="768.5" y1="470.5" x2="1046.5" y2="470.5" stroke="#000" stroke-width="1"/>
<line x1="1046.5" y1="470.5" x2="1046.5" y2="538.5" stroke="#000" stroke-width="1"/>
<line x1="768.5" y1="480.5" x2="1000.5" y2="480.5" stroke="#000" stroke-width="1"/>
<line x1="1000.5" y1="480.5" x2="1000.5" y2="538.5" stroke="#000" stroke-width="1"/>
<line x1="768.5" y1="489.5" x2="954.5" y2="489.5" stroke="#000" stroke-width="1"/>
<line x1="954.5" y1="489.5" x2="954.5" y2="538.5" stroke="#000" stroke-width="1"/>
<line x1="768.5" y1="507.5" x2="916.5" y2="507.5" stroke="#000" stroke-width="1"/>
<line x1="916.5" y1="507.5" x2="916.5" y2="538.5" stroke="#000" stroke-width="1"/>
<line x1="768.5" y1="498.5" x2="870.8" y2="498.5" stroke="#000" stroke-width="1"/>
<polyline points="876.3,492.9 870.8,498.5 876.3,504.1" fill="none" stroke="#000" stroke-width="1"/>
<polyline points="881.5999999999999,492.9 876.0999999999999,498.5 881.5999999999999,504.1" fill="none" stroke="#000" stroke-width="1"/>
<text x="814.7" y="496" font-size="8.4" stroke="#000" stroke-width="0.2" textLength="37.0" lengthAdjust="spacingAndGlyphs">AUD_REF</text>
<text x="882.1" y="501.1" font-size="8.4" stroke="#000" stroke-width="0.2" textLength="36.4" lengthAdjust="spacingAndGlyphs">AUD_REF</text>
<text x="927.5" y="501.1" font-size="8.4" stroke="#000" stroke-width="0.2" textLength="15.1" lengthAdjust="spacingAndGlyphs">(22)</text>
<line x1="842.5" y1="507.5" x2="842.5" y2="527.5" stroke="#000" stroke-width="1"/>
<line x1="768.5" y1="517.5" x2="843.5" y2="517.5" stroke="#000" stroke-width="1"/>
<line x1="768.5" y1="526.5" x2="846.4" y2="526.5" stroke="#000" stroke-width="1"/>
<circle cx="849" cy="526.5" r="2.6" fill="none" stroke="#000" stroke-width="1"/>
<text x="853.7" y="529.7" font-size="8.4" stroke="#000" stroke-width="0.2" textLength="22.6" lengthAdjust="spacingAndGlyphs">AVDD</text>
<polyline points="842.5,508.5 851.5,517.5 842.5,526.5" fill="none" stroke="#000" stroke-width="1"/>
<line x1="851.5" y1="517.5" x2="853" y2="517.5" stroke="#000" stroke-width="1"/>
<line x1="910.5" y1="538.5" x2="922.5" y2="538.5" stroke="#000" stroke-width="1"/>
<path d="M911.0,544.5 C911.0,541.5 913.5,541.7 916.5,541.5 C919.5,541.7 922.0,541.5 922.0,544.5" fill="none" stroke="#000" stroke-width="1"/>
<line x1="916.5" y1="541.5" x2="916.5" y2="563.5" stroke="#000" stroke-width="1"/>
<polygon points="906.5,563.5 926.5,563.5 916.5,573.5" fill="none" stroke="#000" stroke-width="1"/>
<line x1="1040.5" y1="538.5" x2="1052.5" y2="538.5" stroke="#000" stroke-width="1"/>
<path d="M1041.0,544.5 C1041.0,541.5 1043.5,541.7 1046.5,541.5 C1049.5,541.7 1052.0,541.5 1052.0,544.5" fill="none" stroke="#000" stroke-width="1"/>
<line x1="1046.5" y1="541.5" x2="1046.5" y2="563.5" stroke="#000" stroke-width="1"/>
<polygon points="1036.5,563.5 1056.5,563.5 1046.5,573.5" fill="none" stroke="#000" stroke-width="1"/>
<line x1="1077.5" y1="538.5" x2="1089.5" y2="538.5" stroke="#000" stroke-width="1"/>
<path d="M1078.0,544.5 C1078.0,541.5 1080.5,541.7 1083.5,541.5 C1086.5,541.7 1089.0,541.5 1089.0,544.5" fill="none" stroke="#000" stroke-width="1"/>
<line x1="1083.5" y1="541.5" x2="1083.5" y2="563.5" stroke="#000" stroke-width="1"/>
<polygon points="1073.5,563.5 1093.5,563.5 1083.5,573.5" fill="none" stroke="#000" stroke-width="1"/>
<line x1="950.0" y1="538.5" x2="959.0" y2="538.5" stroke="#000" stroke-width="1"/>
<line x1="950.0" y1="541.5" x2="959.0" y2="541.5" stroke="#000" stroke-width="1"/>
<line x1="954.5" y1="541.5" x2="954.5" y2="563.5" stroke="#000" stroke-width="1"/>
<polygon points="944.5,563.5 964.5,563.5 954.5,573.5" fill="none" stroke="#000" stroke-width="1"/>
<line x1="996.0" y1="538.5" x2="1005.0" y2="538.5" stroke="#000" stroke-width="1"/>
<line x1="996.0" y1="541.5" x2="1005.0" y2="541.5" stroke="#000" stroke-width="1"/>
<line x1="1000.5" y1="541.5" x2="1000.5" y2="563.5" stroke="#000" stroke-width="1"/>
<polygon points="990.5,563.5 1010.5,563.5 1000.5,573.5" fill="none" stroke="#000" stroke-width="1"/>
<text x="898.6" y="588.7" font-size="8.4" fill="#172a4e" stroke="#172a4e" stroke-width="0.2" textLength="14.7" lengthAdjust="spacingAndGlyphs">C17</text>
<text x="898.6" y="599" font-size="8.4" fill="#172a4e" stroke="#172a4e" stroke-width="0.2" textLength="54.8" lengthAdjust="spacingAndGlyphs">2.2U/6/Y/16V/X</text>
<text x="981.9000000000001" y="588.7" font-size="8.4" fill="#172a4e" stroke="#172a4e" stroke-width="0.2" textLength="19.4" lengthAdjust="spacingAndGlyphs">C354</text>
<text x="982.3000000000001" y="599" font-size="8.4" fill="#172a4e" stroke="#172a4e" stroke-width="0.2" textLength="59.9" lengthAdjust="spacingAndGlyphs">1000P/6/X/50V/X</text>
<text x="1064.5" y="588.7" font-size="8.4" stroke="#000" stroke-width="0.2" textLength="15.0" lengthAdjust="spacingAndGlyphs">C19</text>
<text x="1065.2" y="599" font-size="8.4" stroke="#000" stroke-width="0.2" textLength="48.0" lengthAdjust="spacingAndGlyphs">1U/6/Y/10V/X</text>
<text x="935.9000000000001" y="607.8" font-size="8.4" stroke="#000" stroke-width="0.2" textLength="18.6" lengthAdjust="spacingAndGlyphs">C353</text>
<text x="936.4000000000001" y="617" font-size="8.4" stroke="#000" stroke-width="0.2" textLength="59.7" lengthAdjust="spacingAndGlyphs">1000P/6/X/50V/X</text>
<text x="1027.7" y="607.8" font-size="8.4" stroke="#000" stroke-width="0.2" textLength="14.9" lengthAdjust="spacingAndGlyphs">C18</text>
<text x="1028.7" y="617" font-size="8.4" stroke="#000" stroke-width="0.2" textLength="47.6" lengthAdjust="spacingAndGlyphs">1U/6/Y/10V/X</text>
<line x1="676.5" y1="600.5" x2="676.5" y2="674.5" stroke="#000" stroke-width="1"/>
<line x1="676.5" y1="674.5" x2="715.5" y2="674.5" stroke="#000" stroke-width="1"/>
<line x1="715.5" y1="670.5" x2="715.5" y2="678.5" stroke="#000" stroke-width="1"/>
<line x1="719.5" y1="670.5" x2="719.5" y2="678.5" stroke="#000" stroke-width="1"/>
<line x1="719.5" y1="674.5" x2="852" y2="674.5" stroke="#000" stroke-width="1"/>
<polyline points="857.5,668.9 852,674.5 857.5,680.1" fill="none" stroke="#000" stroke-width="1"/>
<polyline points="862.8,668.9 857.3,674.5 862.8,680.1" fill="none" stroke="#000" stroke-width="1"/>
<text x="865.4000000000001" y="676.5" font-size="8.4" stroke="#000" stroke-width="0.2" textLength="38.4" lengthAdjust="spacingAndGlyphs">LINE_IN_R</text>
<text x="914.3000000000001" y="676.5" font-size="8.4" stroke="#000" stroke-width="0.2" textLength="15.0" lengthAdjust="spacingAndGlyphs">(22)</text>
<text x="684.4000000000001" y="672.7" font-size="8.4" stroke="#000" stroke-width="0.2" textLength="20.2" lengthAdjust="spacingAndGlyphs">C370</text>
<text x="731.5" y="672.7" font-size="8.4" stroke="#000" stroke-width="0.2" textLength="56.7" lengthAdjust="spacingAndGlyphs">2.2U/6/Y/6.3V/X</text>
<line x1="666.5" y1="600.5" x2="666.5" y2="693.5" stroke="#000" stroke-width="1"/>
<line x1="666.5" y1="693.5" x2="715.5" y2="693.5" stroke="#000" stroke-width="1"/>
<line x1="715.5" y1="689.5" x2="715.5" y2="697.5" stroke="#000" stroke-width="1"/>
<line x1="719.5" y1="689.5" x2="719.5" y2="697.5" stroke="#000" stroke-width="1"/>
<line x1="719.5" y1="693.5" x2="852" y2="693.5" stroke="#000" stroke-width="1"/>
<polyline points="857.5,687.9 852,693.5 857.5,699.1" fill="none" stroke="#000" stroke-width="1"/>
<polyline points="862.8,687.9 857.3,693.5 862.8,699.1" fill="none" stroke="#000" stroke-width="1"/>
<text x="863.4000000000001" y="695.5" font-size="8.4" stroke="#000" stroke-width="0.2" textLength="38.5" lengthAdjust="spacingAndGlyphs">LINE_IN_L</text>
<text x="911.5" y="695.5" font-size="8.4" stroke="#000" stroke-width="0.2" textLength="13.9" lengthAdjust="spacingAndGlyphs">(22)</text>
<text x="684.4000000000001" y="691.7" font-size="8.4" stroke="#000" stroke-width="0.2" textLength="20.2" lengthAdjust="spacingAndGlyphs">C371</text>
<text x="731.5" y="691.7" font-size="8.4" stroke="#000" stroke-width="0.2" textLength="56.7" lengthAdjust="spacingAndGlyphs">2.2U/6/Y/6.3V/X</text>
<line x1="657.5" y1="600.5" x2="657.5" y2="711.5" stroke="#000" stroke-width="1"/>
<line x1="657.5" y1="711.5" x2="715.5" y2="711.5" stroke="#000" stroke-width="1"/>
<line x1="715.5" y1="707.5" x2="715.5" y2="715.5" stroke="#000" stroke-width="1"/>
<line x1="719.5" y1="707.5" x2="719.5" y2="715.5" stroke="#000" stroke-width="1"/>
<line x1="719.5" y1="711.5" x2="852.5" y2="711.5" stroke="#000" stroke-width="1"/>
<polygon points="852.5,701.5 862.5,711.5 852.5,721.5" fill="none" stroke="#000" stroke-width="1"/>
<text x="684.4000000000001" y="709.7" font-size="8.4" stroke="#000" stroke-width="0.2" textLength="20.2" lengthAdjust="spacingAndGlyphs">C362</text>
<text x="731.5" y="709.7" font-size="8.4" stroke="#000" stroke-width="0.2" textLength="54.8" lengthAdjust="spacingAndGlyphs">0.1U/6/Y/25V/X</text>
<line x1="648.5" y1="600.5" x2="648.5" y2="730.5" stroke="#000" stroke-width="1"/>
<line x1="648.5" y1="730.5" x2="715.5" y2="730.5" stroke="#000" stroke-width="1"/>
<line x1="715.5" y1="726.5" x2="715.5" y2="734.5" stroke="#000" stroke-width="1"/>
<line x1="719.5" y1="726.5" x2="719.5" y2="734.5" stroke="#000" stroke-width="1"/>
<line x1="719.5" y1="730.5" x2="852" y2="730.5" stroke="#000" stroke-width="1"/>
<polyline points="857.5,724.9 852,730.5 857.5,736.1" fill="none" stroke="#000" stroke-width="1"/>
<polyline points="862.8,724.9 857.3,730.5 862.8,736.1" fill="none" stroke="#000" stroke-width="1"/>
<text x="862.7" y="732.5" font-size="8.4" stroke="#000" stroke-width="0.2" textLength="18.0" lengthAdjust="spacingAndGlyphs">MIC1</text>
<text x="888.9000000000001" y="732.5" font-size="8.4" stroke="#000" stroke-width="0.2" textLength="14.3" lengthAdjust="spacingAndGlyphs">(22)</text>
<text x="684.4000000000001" y="728.7" font-size="8.4" stroke="#000" stroke-width="0.2" textLength="20.2" lengthAdjust="spacingAndGlyphs">C379</text>
<text x="731.5" y="728.7" font-size="8.4" stroke="#000" stroke-width="0.2" textLength="47.6" lengthAdjust="spacingAndGlyphs">1U/6/Y/10V/X</text>
<line x1="638.5" y1="600.5" x2="638.5" y2="748.5" stroke="#000" stroke-width="1"/>
<line x1="638.5" y1="748.5" x2="715.5" y2="748.5" stroke="#000" stroke-width="1"/>
<line x1="715.5" y1="744.5" x2="715.5" y2="752.5" stroke="#000" stroke-width="1"/>
<line x1="720" y1="744.0" x2="720" y2="753.0" stroke="#000" stroke-width="2"/>
<line x1="719.5" y1="748.5" x2="852" y2="748.5" stroke="#000" stroke-width="1"/>
<polyline points="857.5,742.9 852,748.5 857.5,754.1" fill="none" stroke="#000" stroke-width="1"/>
<polyline points="862.8,742.9 857.3,748.5 862.8,754.1" fill="none" stroke="#000" stroke-width="1"/>
<text x="862.7" y="750.5" font-size="8.4" stroke="#000" stroke-width="0.2" textLength="21.9" lengthAdjust="spacingAndGlyphs">CD_R</text>
<text x="892.7" y="750.5" font-size="8.4" stroke="#000" stroke-width="0.2" textLength="14.4" lengthAdjust="spacingAndGlyphs">(22)</text>
<text x="684.4000000000001" y="746.7" font-size="8.4" stroke="#000" stroke-width="0.2" textLength="20.2" lengthAdjust="spacingAndGlyphs">C375</text>
<text x="731.5" y="746.7" font-size="8.4" stroke="#000" stroke-width="0.2" textLength="54.8" lengthAdjust="spacingAndGlyphs">0.1U/6/Y/25V/X</text>
<line x1="629.5" y1="600.5" x2="629.5" y2="767.5" stroke="#000" stroke-width="1"/>
<line x1="629.5" y1="767.5" x2="715.5" y2="767.5" stroke="#000" stroke-width="1"/>
<line x1="715.5" y1="763.5" x2="715.5" y2="771.5" stroke="#000" stroke-width="1"/>
<line x1="719.5" y1="763.5" x2="719.5" y2="771.5" stroke="#000" stroke-width="1"/>
<line x1="719.5" y1="767.5" x2="852" y2="767.5" stroke="#000" stroke-width="1"/>
<polyline points="857.5,761.9 852,767.5 857.5,773.1" fill="none" stroke="#000" stroke-width="1"/>
<polyline points="862.8,761.9 857.3,767.5 862.8,773.1" fill="none" stroke="#000" stroke-width="1"/>
<text x="862.7" y="769.5" font-size="8.4" stroke="#000" stroke-width="0.2" textLength="29.8" lengthAdjust="spacingAndGlyphs">CDGND</text>
<text x="900.7" y="769.5" font-size="8.4" stroke="#000" stroke-width="0.2" textLength="14.6" lengthAdjust="spacingAndGlyphs">(22)</text>
<text x="805.7" y="764.8" font-size="8.4" stroke="#000" stroke-width="0.2" textLength="29.6" lengthAdjust="spacingAndGlyphs">CDGND</text>
<text x="684.4000000000001" y="765.7" font-size="8.4" stroke="#000" stroke-width="0.2" textLength="20.2" lengthAdjust="spacingAndGlyphs">C356</text>
<text x="731.5" y="765.7" font-size="8.4" stroke="#000" stroke-width="0.2" textLength="54.8" lengthAdjust="spacingAndGlyphs">0.1U/6/Y/25V/X</text>
<line x1="620.5" y1="600.5" x2="620.5" y2="785.5" stroke="#000" stroke-width="1"/>
<line x1="620.5" y1="785.5" x2="715.5" y2="785.5" stroke="#000" stroke-width="1"/>
<line x1="715.5" y1="781.5" x2="715.5" y2="789.5" stroke="#000" stroke-width="1"/>
<line x1="720" y1="781.0" x2="720" y2="790.0" stroke="#000" stroke-width="2"/>
<line x1="719.5" y1="785.5" x2="852" y2="785.5" stroke="#000" stroke-width="1"/>
<polyline points="857.5,779.9 852,785.5 857.5,791.1" fill="none" stroke="#000" stroke-width="1"/>
<polyline points="862.8,779.9 857.3,785.5 862.8,791.1" fill="none" stroke="#000" stroke-width="1"/>
<text x="862.7" y="787.5" font-size="8.4" stroke="#000" stroke-width="0.2" textLength="21.6" lengthAdjust="spacingAndGlyphs">CD_L</text>
<text x="890.7" y="787.5" font-size="8.4" stroke="#000" stroke-width="0.2" textLength="14.4" lengthAdjust="spacingAndGlyphs">(22)</text>
<text x="684.4000000000001" y="783.7" font-size="8.4" stroke="#000" stroke-width="0.2" textLength="20.2" lengthAdjust="spacingAndGlyphs">C372</text>
<text x="731.5" y="783.7" font-size="8.4" stroke="#000" stroke-width="0.2" textLength="54.8" lengthAdjust="spacingAndGlyphs">0.1U/6/Y/25V/X</text>
<line x1="592.5" y1="600.5" x2="592.5" y2="804.5" stroke="#000" stroke-width="1"/>
<line x1="592.5" y1="804.5" x2="715.5" y2="804.5" stroke="#000" stroke-width="1"/>
<line x1="716" y1="801.5" x2="716" y2="807.5" stroke="#000" stroke-width="2"/>
<line x1="720.5" y1="801.5" x2="720.5" y2="807.5" stroke="#000" stroke-width="1"/>
<line x1="720.5" y1="804.5" x2="852" y2="804.5" stroke="#000" stroke-width="1"/>
<polyline points="857.5,798.9 852,804.5 857.5,810.1" fill="none" stroke="#000" stroke-width="1"/>
<polyline points="862.8,798.9 857.3,804.5 862.8,810.1" fill="none" stroke="#000" stroke-width="1"/>
<text x="862.7" y="806.5" font-size="8.4" stroke="#000" stroke-width="0.2" textLength="25.9" lengthAdjust="spacingAndGlyphs">AUX_R</text>
<text x="896.7" y="806.5" font-size="8.4" stroke="#000" stroke-width="0.2" textLength="13.6" lengthAdjust="spacingAndGlyphs">(22)</text>
<text x="805.7" y="801.8" font-size="8.4" stroke="#000" stroke-width="0.2" textLength="25.9" lengthAdjust="spacingAndGlyphs">AUX_R</text>
<text x="684.4000000000001" y="802.7" font-size="8.4" stroke="#000" stroke-width="0.2" textLength="20.2" lengthAdjust="spacingAndGlyphs">C365</text>
<text x="731.5" y="802.7" font-size="8.4" stroke="#000" stroke-width="0.2" textLength="54.8" lengthAdjust="spacingAndGlyphs">0.1U/6/Y/25V/X</text>
<line x1="583.5" y1="600.5" x2="583.5" y2="822.5" stroke="#000" stroke-width="1"/>
<line x1="583.5" y1="822.5" x2="715.5" y2="822.5" stroke="#000" stroke-width="1"/>
<line x1="716" y1="819.5" x2="716" y2="825.5" stroke="#000" stroke-width="2"/>
<line x1="720.5" y1="819.5" x2="720.5" y2="825.5" stroke="#000" stroke-width="1"/>
<line x1="720.5" y1="822.5" x2="852" y2="822.5" stroke="#000" stroke-width="1"/>
<polyline points="857.5,816.9 852,822.5 857.5,828.1" fill="none" stroke="#000" stroke-width="1"/>
<polyline points="862.8,816.9 857.3,822.5 862.8,828.1" fill="none" stroke="#000" stroke-width="1"/>
<text x="862.7" y="824.5" font-size="8.4" stroke="#000" stroke-width="0.2" textLength="25.6" lengthAdjust="spacingAndGlyphs">AUX_L</text>
<text x="894.7" y="824.5" font-size="8.4" stroke="#000" stroke-width="0.2" textLength="13.6" lengthAdjust="spacingAndGlyphs">(22)</text>
<text x="805.7" y="819.8" font-size="8.4" stroke="#000" stroke-width="0.2" textLength="25.6" lengthAdjust="spacingAndGlyphs">AUX_L</text>
<text x="684.4000000000001" y="820.7" font-size="8.4" stroke="#000" stroke-width="0.2" textLength="20.2" lengthAdjust="spacingAndGlyphs">C366</text>
<text x="731.5" y="820.7" font-size="8.4" stroke="#000" stroke-width="0.2" textLength="54.8" lengthAdjust="spacingAndGlyphs">0.1U/6/Y/25V/X</text>
<line x1="574.5" y1="600.5" x2="574.5" y2="841.5" stroke="#000" stroke-width="1"/>
<line x1="574.5" y1="841.5" x2="715.5" y2="841.5" stroke="#000" stroke-width="1"/>
<line x1="715.5" y1="837.5" x2="715.5" y2="845.5" stroke="#000" stroke-width="1"/>
<line x1="719.5" y1="837.5" x2="719.5" y2="845.5" stroke="#000" stroke-width="1"/>
<line x1="719.5" y1="841.5" x2="851.3" y2="841.5" stroke="#000" stroke-width="1"/>
<polyline points="851.6999999999999,836.6 855.4,841.5 851.6999999999999,846.4" fill="none" stroke="#000" stroke-width="1"/>
<line x1="855.4" y1="841.5" x2="857.0" y2="841.5" stroke="#000" stroke-width="1"/>
<polyline points="855.5999999999999,836.6 861.1999999999999,841.5 855.5999999999999,846.4" fill="none" stroke="#000" stroke-width="1"/>
<text x="863.4000000000001" y="843.5" font-size="8.4" stroke="#000" stroke-width="0.2" textLength="27.4" lengthAdjust="spacingAndGlyphs">PHONE</text>
<text x="899.7" y="843.5" font-size="8.4" stroke="#000" stroke-width="0.2" textLength="13.6" lengthAdjust="spacingAndGlyphs">(22)</text>
<text x="806.7" y="838.8" font-size="8.4" stroke="#000" stroke-width="0.2" textLength="27.2" lengthAdjust="spacingAndGlyphs">PHONE</text>
<text x="684.4000000000001" y="839.7" font-size="8.4" stroke="#000" stroke-width="0.2" textLength="20.2" lengthAdjust="spacingAndGlyphs">C357</text>
<text x="731.5" y="839.7" font-size="8.4" stroke="#000" stroke-width="0.2" textLength="54.8" lengthAdjust="spacingAndGlyphs">0.1U/6/Y/25V/X</text>
<line x1="601.5" y1="600.5" x2="601.5" y2="628.8" stroke="#000" stroke-width="1"/>
<line x1="611.5" y1="600.5" x2="611.5" y2="628.8" stroke="#000" stroke-width="1"/>
<rect x="129.5" y="665.5" width="306" height="222" fill="none" stroke="#000" stroke-width="1"/>
<line x1="231.5" y1="730.5" x2="361.8" y2="730.5" stroke="#000" stroke-width="1"/>
<line x1="231.5" y1="730.5" x2="231.5" y2="787.5" stroke="#000" stroke-width="1"/>
<line x1="231.5" y1="757.5" x2="259.5" y2="757.5" stroke="#000" stroke-width="1"/>
<line x1="259.5" y1="753" x2="259.5" y2="763.5" stroke="#000" stroke-width="1"/>
<line x1="268.5" y1="753" x2="268.5" y2="763.5" stroke="#000" stroke-width="1"/>
<rect x="262.5" y="752.5" width="3.5" height="10" fill="none" stroke="#000" stroke-width="1"/>
<line x1="268.5" y1="757.5" x2="361.8" y2="757.5" stroke="#000" stroke-width="1"/>
<circle cx="231.5" cy="757.5" r="2" fill="#000"/>
<circle cx="296.5" cy="757.5" r="2" fill="#000"/>
<line x1="296.5" y1="757.5" x2="296.5" y2="787.5" stroke="#000" stroke-width="1"/>
<line x1="222.5" y1="787.5" x2="240.5" y2="787.5" stroke="#000" stroke-width="1"/>
<line x1="222.5" y1="792.5" x2="240.5" y2="792.5" stroke="#000" stroke-width="1"/>
<line x1="231.5" y1="792.5" x2="231.5" y2="816.5" stroke="#000" stroke-width="1"/>
<line x1="225.5" y1="816.5" x2="237.5" y2="816.5" stroke="#000" stroke-width="1"/>
<line x1="227.5" y1="818.5" x2="235.5" y2="818.5" stroke="#000" stroke-width="1"/>
<line x1="229.5" y1="820.5" x2="233.5" y2="820.5" stroke="#000" stroke-width="1"/>
<line x1="287.5" y1="787.5" x2="305.5" y2="787.5" stroke="#000" stroke-width="1"/>
<line x1="287.5" y1="792.5" x2="305.5" y2="792.5" stroke="#000" stroke-width="1"/>
<line x1="296.5" y1="792.5" x2="296.5" y2="816.5" stroke="#000" stroke-width="1"/>
<line x1="290.5" y1="816.5" x2="302.5" y2="816.5" stroke="#000" stroke-width="1"/>
<line x1="292.5" y1="818.5" x2="300.5" y2="818.5" stroke="#000" stroke-width="1"/>
<line x1="294.5" y1="820.5" x2="298.5" y2="820.5" stroke="#000" stroke-width="1"/>
<text x="323.59999999999997" y="728" font-size="8.4" stroke="#000" stroke-width="0.2" textLength="21.7" lengthAdjust="spacingAndGlyphs">XTLIN</text>
<text x="249.7" y="736.9" font-size="8.4" stroke="#000" stroke-width="0.2" textLength="9.9" lengthAdjust="spacingAndGlyphs">X2</text>
<text x="249.89999999999998" y="747.3" font-size="8.4" stroke="#000" stroke-width="0.2" textLength="62.2" lengthAdjust="spacingAndGlyphs">24.576M/20P/D/X</text>
<text x="248.7" y="756.5" font-size="8.4" stroke="#000" stroke-width="0.2" textLength="3.1" lengthAdjust="spacingAndGlyphs">1</text>
<text x="274.8" y="756.5" font-size="8.4" stroke="#000" stroke-width="0.2" textLength="4.7" lengthAdjust="spacingAndGlyphs">2</text>
<text x="323.59999999999997" y="756" font-size="8.4" stroke="#000" stroke-width="0.2" textLength="30.5" lengthAdjust="spacingAndGlyphs">XTLOUT</text>
<text x="166.5" y="792.7" font-size="8.4" stroke="#000" stroke-width="0.2" textLength="18.8" lengthAdjust="spacingAndGlyphs">C363</text>
<text x="166.5" y="802.4" font-size="8.4" stroke="#000" stroke-width="0.2" textLength="52.7" lengthAdjust="spacingAndGlyphs">22P/6/N/50V/X</text>
<text x="305.4" y="791.3" font-size="8.4" stroke="#000" stroke-width="0.2" textLength="19.8" lengthAdjust="spacingAndGlyphs">C364</text>
<text x="305.4" y="802.4" font-size="8.4" stroke="#000" stroke-width="0.2" textLength="52.7" lengthAdjust="spacingAndGlyphs">22P/6/N/50V/X</text>
<rect x="1222.5" y="146.5" width="306" height="445" fill="none" stroke="#000" stroke-width="1"/>
<line x1="1222.5" y1="369.5" x2="1528.5" y2="369.5" stroke="#000" stroke-width="1"/>
<circle cx="1306.5" cy="242" r="2.5" fill="none" stroke="#000" stroke-width="1"/>
<text x="1293.7" y="236.8" font-size="8.4" stroke="#000" stroke-width="0.2" textLength="22.7" lengthAdjust="spacingAndGlyphs">AVDD</text>
<line x1="1306.5" y1="244.5" x2="1306.5" y2="278.5" stroke="#000" stroke-width="1"/>
<circle cx="1306.5" cy="257.5" r="2" fill="#000"/>
<line x1="1306.5" y1="257.5" x2="1361.5" y2="257.5" stroke="#000" stroke-width="1"/>
<line x1="1361.5" y1="236" x2="1361.5" y2="257.5" stroke="#000" stroke-width="1"/>
<line x1="1370.5" y1="236" x2="1370.5" y2="266.5" stroke="#000" stroke-width="1"/>
<polygon points="1360.5,266.5 1380.5,266.5 1370.5,277.0" fill="none" stroke="#000" stroke-width="1"/>
<line x1="1380.5" y1="236" x2="1380.5" y2="257.5" stroke="#000" stroke-width="1"/>
<line x1="1380.5" y1="257.5" x2="1435.5" y2="257.5" stroke="#000" stroke-width="1"/>
<path d="M1355.5,239.5 L1355.5,229 Q1356.5,219 1366,217.5 L1377,217.5 Q1386.5,219 1387.5,229 L1387.5,239.5 Z" fill="none" stroke="#000" stroke-width="1"/>
<circle cx="1361.5" cy="236" r="2.2" fill="#000"/>
<circle cx="1370.8" cy="236" r="2.2" fill="#000"/>
<circle cx="1380.5" cy="236" r="2.2" fill="#000"/>
<circle cx="1362" cy="229.8" r="1.8" fill="none" stroke="#000" stroke-width="1"/>
<text x="1368.4" y="230" font-size="5.5" stroke="#000" stroke-width="0.2">G</text>
<text x="1380.3" y="233" font-size="5.5" stroke="#000" stroke-width="0.2">I</text>
<text x="1360.5" y="256" font-size="6.5" stroke="#000" stroke-width="0.2" transform="rotate(-90 1360.5 256)">1</text>
<text x="1369" y="256" font-size="6.5" stroke="#000" stroke-width="0.2" transform="rotate(-90 1369 256)">2</text>
<text x="1379" y="256" font-size="6.5" stroke="#000" stroke-width="0.2" transform="rotate(-90 1379 256)">3</text>
<text x="1342.9" y="200" font-size="8.4" stroke="#000" stroke-width="0.2" textLength="13.7" lengthAdjust="spacingAndGlyphs">Q51</text>
<text x="1342.9" y="209" font-size="8.4" stroke="#000" stroke-width="0.2" textLength="58.1" lengthAdjust="spacingAndGlyphs">78L05/D/TO92/X</text>
<circle cx="1435.5" cy="242" r="2.5" fill="none" stroke="#000" stroke-width="1"/>
<text x="1425.7" y="236.8" font-size="8.4" stroke="#000" stroke-width="0.2" textLength="18.6" lengthAdjust="spacingAndGlyphs">+12V</text>
<line x1="1435.5" y1="244.5" x2="1435.5" y2="277.5" stroke="#000" stroke-width="1"/>
<circle cx="1435.5" cy="257.5" r="2" fill="#000"/>
<line x1="1300.5" y1="278.5" x2="1312.5" y2="278.5" stroke="#000" stroke-width="1"/>
<path d="M1301.0,284.5 C1301.0,281.5 1303.5,281.7 1306.5,281.5 C1309.5,281.7 1312.0,281.5 1312.0,284.5" fill="none" stroke="#000" stroke-width="1"/>
<line x1="1306.5" y1="281.5" x2="1306.5" y2="303.5" stroke="#000" stroke-width="1"/>
<polygon points="1296.5,303.5 1316.5,303.5 1306.5,313.5" fill="none" stroke="#000" stroke-width="1"/>
<text x="1315.5" y="273.8" font-size="8.4" stroke="#000" stroke-width="0.2" textLength="19.9" lengthAdjust="spacingAndGlyphs">EC30</text>
<text x="1314.6000000000001" y="292.9" font-size="8.4" stroke="#000" stroke-width="0.2" textLength="57.6" lengthAdjust="spacingAndGlyphs">22U/D/16V/47/X</text>
<line x1="1431.5" y1="277.5" x2="1439.5" y2="277.5" stroke="#000" stroke-width="1"/>
<line x1="1432.5" y1="283" x2="1438.5" y2="283" stroke="#000" stroke-width="2"/>
<line x1="1435.5" y1="283.5" x2="1435.5" y2="306.5" stroke="#000" stroke-width="1"/>
<line x1="1429.5" y1="306.5" x2="1441.5" y2="306.5" stroke="#000" stroke-width="1"/>
<line x1="1431.0" y1="308.5" x2="1440.0" y2="308.5" stroke="#000" stroke-width="1"/>
<line x1="1432.5" y1="310.5" x2="1438.5" y2="310.5" stroke="#000" stroke-width="1"/>
<text x="1444.5" y="273.8" font-size="8.4" stroke="#000" stroke-width="0.2" textLength="15.1" lengthAdjust="spacingAndGlyphs">C16</text>
<text x="1444.5" y="292.9" font-size="8.4" stroke="#000" stroke-width="0.2" textLength="54.5" lengthAdjust="spacingAndGlyphs">0.1U/6/Y/25V/X</text>
<circle cx="1324.5" cy="455" r="2.5" fill="none" stroke="#000" stroke-width="1"/>
<text x="1311.7" y="449.8" font-size="8.4" stroke="#000" stroke-width="0.2" textLength="21.6" lengthAdjust="spacingAndGlyphs">VCC3</text>
<line x1="1324.5" y1="457.5" x2="1324.5" y2="480.5" stroke="#000" stroke-width="1"/>
<line x1="1324.5" y1="480.5" x2="1370.5" y2="480.5" stroke="#000" stroke-width="1"/>
<polyline points="1370.5,480.5 1372.1,478.5 1375.7,482.9 1379.5,478.5 1383.1,482.9 1386.9,478.5 1388.6,480.5" fill="none" stroke="#000" stroke-width="1"/>
<line x1="1388.6" y1="480.5" x2="1436.5" y2="480.5" stroke="#000" stroke-width="1"/>
<line x1="1436.5" y1="480.5" x2="1436.5" y2="457.5" stroke="#000" stroke-width="1"/>
<circle cx="1435.8" cy="455" r="2.5" fill="none" stroke="#000" stroke-width="1"/>
<text x="1416.6000000000001" y="449.8" font-size="8.4" stroke="#000" stroke-width="0.2" textLength="41.0" lengthAdjust="spacingAndGlyphs">AUDDVDD</text>
<text x="1334.8" y="478.1" font-size="8.4" stroke="#000" stroke-width="0.2" textLength="17.8" lengthAdjust="spacingAndGlyphs">R946</text>
<text x="1407.5" y="478.1" font-size="8.4" stroke="#000" stroke-width="0.2" textLength="25.8" lengthAdjust="spacingAndGlyphs">2.2/6/X</text>
<circle cx="1213.5" cy="890.5" r="2.5" fill="none" stroke="#000" stroke-width="1"/>
<text x="1194.8" y="886" font-size="8.4" stroke="#000" stroke-width="0.2" textLength="39.5" lengthAdjust="spacingAndGlyphs">AUDDVDD</text>
<line x1="1213.5" y1="893" x2="1213.5" y2="927.5" stroke="#000" stroke-width="1"/>
<circle cx="1213.5" cy="906.5" r="2" fill="#000"/>
<line x1="1213.5" y1="906.5" x2="1269.5" y2="906.5" stroke="#000" stroke-width="1"/>
<line x1="1269.5" y1="906.5" x2="1269.5" y2="927.5" stroke="#000" stroke-width="1"/>
<line x1="1209.0" y1="927.5" x2="1218.0" y2="927.5" stroke="#000" stroke-width="1"/>
<line x1="1209.0" y1="931.5" x2="1218.0" y2="931.5" stroke="#000" stroke-width="1"/>
<line x1="1265.0" y1="927.5" x2="1274.0" y2="927.5" stroke="#000" stroke-width="1"/>
<line x1="1265.0" y1="931.5" x2="1274.0" y2="931.5" stroke="#000" stroke-width="1"/>
<line x1="1213.5" y1="931.5" x2="1213.5" y2="952.5" stroke="#000" stroke-width="1"/>
<line x1="1269.5" y1="931.5" x2="1269.5" y2="964.5" stroke="#000" stroke-width="1"/>
<line x1="1213.5" y1="952.5" x2="1269.5" y2="952.5" stroke="#000" stroke-width="1"/>
<circle cx="1269.5" cy="952.5" r="2" fill="#000"/>
<line x1="1263.5" y1="964.5" x2="1275.5" y2="964.5" stroke="#000" stroke-width="1"/>
<line x1="1265.5" y1="966.5" x2="1273.5" y2="966.5" stroke="#000" stroke-width="1"/>
<line x1="1267.5" y1="968.5" x2="1271.5" y2="968.5" stroke="#000" stroke-width="1"/>
<text x="1148.6000000000001" y="922.9" font-size="8.4" stroke="#000" stroke-width="0.2" textLength="23.3" lengthAdjust="spacingAndGlyphs">BC297</text>
<text x="1148.6000000000001" y="941.2" font-size="8.4" stroke="#000" stroke-width="0.2" textLength="54.7" lengthAdjust="spacingAndGlyphs">0.1U/6/Y/25V/X</text>
<text x="1277.5" y="922.9" font-size="8.4" stroke="#000" stroke-width="0.2" textLength="24.8" lengthAdjust="spacingAndGlyphs">BC298</text>
<text x="1277.5" y="941.2" font-size="8.4" stroke="#000" stroke-width="0.2" textLength="59.8" lengthAdjust="spacingAndGlyphs">0.01U/6/X/50V/X</text>
<circle cx="1417.5" cy="890.5" r="2.5" fill="none" stroke="#000" stroke-width="1"/>
<text x="1404.7" y="886" font-size="8.4" stroke="#000" stroke-width="0.2" textLength="22.9" lengthAdjust="spacingAndGlyphs">AVDD</text>
<line x1="1417.5" y1="893" x2="1417.5" y2="927.5" stroke="#000" stroke-width="1"/>
<circle cx="1417.5" cy="906.5" r="2" fill="#000"/>
<line x1="1417.5" y1="906.5" x2="1472.5" y2="906.5" stroke="#000" stroke-width="1"/>
<line x1="1472.5" y1="906.5" x2="1472.5" y2="927.5" stroke="#000" stroke-width="1"/>
<line x1="1413.0" y1="927.5" x2="1422.0" y2="927.5" stroke="#000" stroke-width="1"/>
<line x1="1413.0" y1="931.5" x2="1422.0" y2="931.5" stroke="#000" stroke-width="1"/>
<line x1="1468.0" y1="927.5" x2="1477.0" y2="927.5" stroke="#000" stroke-width="1"/>
<line x1="1468.0" y1="931.5" x2="1477.0" y2="931.5" stroke="#000" stroke-width="1"/>
<line x1="1417.5" y1="931.5" x2="1417.5" y2="952.5" stroke="#000" stroke-width="1"/>
<line x1="1472.5" y1="931.5" x2="1472.5" y2="961.5" stroke="#000" stroke-width="1"/>
<line x1="1417.5" y1="952.5" x2="1472.5" y2="952.5" stroke="#000" stroke-width="1"/>
<circle cx="1472.5" cy="952.5" r="2" fill="#000"/>
<polygon points="1462.5,961.5 1482.5,961.5 1472.5,971.5" fill="none" stroke="#000" stroke-width="1"/>
<text x="1351.5" y="922.9" font-size="8.4" stroke="#000" stroke-width="0.2" textLength="25.1" lengthAdjust="spacingAndGlyphs">BC296</text>
<text x="1351.5" y="941.2" font-size="8.4" stroke="#000" stroke-width="0.2" textLength="56.1" lengthAdjust="spacingAndGlyphs">0.1U/6/Y/25V/X</text>
<text x="1481.4" y="922.9" font-size="8.4" stroke="#000" stroke-width="0.2" textLength="25.1" lengthAdjust="spacingAndGlyphs">BC299</text>
<text x="1481.4" y="941.2" font-size="8.4" stroke="#000" stroke-width="0.2" textLength="55.9" lengthAdjust="spacingAndGlyphs">0.1U/6/Y/25V/X</text>
</svg>
</body></html>
